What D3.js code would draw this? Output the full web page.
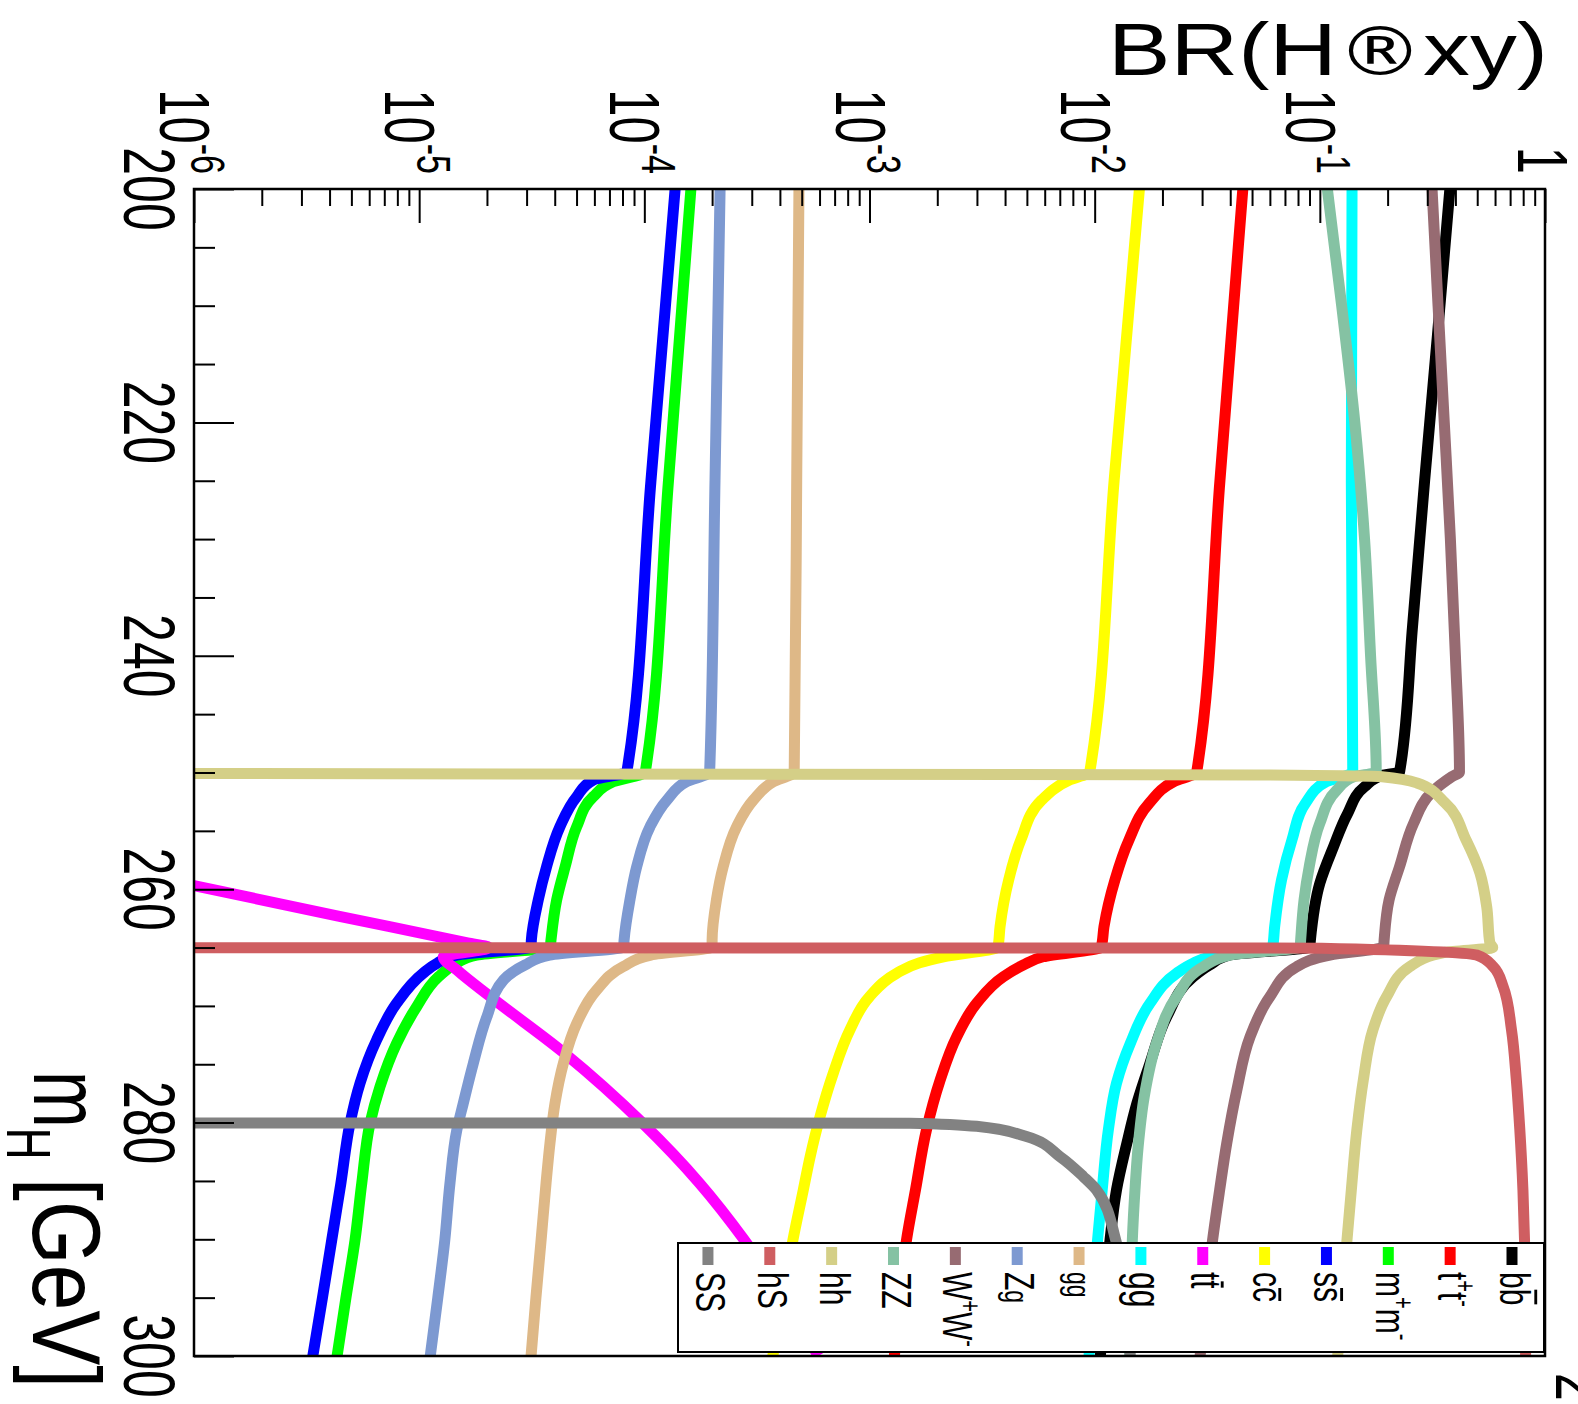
<!DOCTYPE html>
<html><head><meta charset="utf-8">
<script src="https://cdn.jsdelivr.net/npm/d3@7"></script>
<style>
body{margin:0;background:#fff;}
svg text{font-family:"Liberation Sans",Arial,Helvetica,sans-serif;fill:#000;}
</style></head><body>
<svg id="c" width="1578" height="1404"></svg>
<script>
// ---------------- data (mH [GeV], BR) ----------------
const brMajorTicks = [1e-6,1e-5,1e-4,1e-3,1e-2,1e-1,1];
const brLabelBase  = ["10","10","10","10","10","10","1"];
const brLabelExp   = ["-6","-5","-4","-3","-2","-1",""];
const mHMajorTicks = [200,220,240,260,280,300];

const bb = [[200,0.378],[212.5,0.333],[225,0.292],[237.5,0.258],[249.95,0.226],[250.25,0.189],[251.22,0.158],[253.5,0.133],[256.36,0.115],[259.49,0.100],[264.35,0.0908],[264.95,0.0902],[265.64,0.0399],[266.5,0.0324],[267.5,0.0274],[270.92,0.0209],[274.92,0.0176],[278.35,0.0154],[281.77,0.0139],[285.78,0.0125],[290.06,0.0117],[295,0.0111],[300,0.0106]];
const tautau = [[200,0.0455],[225,0.0360],[249.95,0.0284],[250.79,0.0224],[252.61,0.0175],[255.78,0.0142],[259.21,0.0123],[263.21,0.0110],[264.95,0.0107],[265.79,0.00590],[266.5,0.00482],[267.5,0.00393],[269.78,0.00299],[272.64,0.00244],[276.35,0.00206],[280.63,0.00179],[285.78,0.00160],[290.06,0.00146],[295,0.00136],[300,0.00129]];
const mumu = [[200,1.61e-4],[225,1.28e-4],[249.95,1.01e-4],[250.79,7.28e-5],[252.07,5.93e-5],[254.64,5.01e-5],[258.07,4.45e-5],[260.92,4.08e-5],[264.35,3.85e-5],[264.95,3.82e-5],[265.64,1.80e-5],[266.35,1.46e-5],[267.5,1.22e-5],[270.07,9.75e-6],[273.21,7.94e-6],[276.92,6.70e-6],[280.06,6.05e-6],[285.2,5.56e-6],[290.06,5.19e-6],[295,4.73e-6],[300,4.32e-6]];
const ssbar = [[200,1.37e-4],[225,1.07e-4],[249.95,8.36e-5],[250.64,5.93e-5],[252.07,5.01e-5],[254.64,4.22e-5],[258.07,3.68e-5],[260.92,3.38e-5],[264.35,3.15e-5],[264.95,3.14e-5],[265.64,1.47e-5],[266.35,1.20e-5],[267.21,1.04e-5],[269.78,7.94e-6],[272.92,6.47e-6],[276.63,5.46e-6],[280.06,4.93e-6],[285.2,4.49e-6],[290.06,4.09e-6],[295,3.72e-6],[300,3.37e-6]];
const ccbar = [[200,0.0158],[225,0.0122],[249.95,0.00951],[250.64,0.00773],[252.36,0.00582],[255.78,0.00470],[259.21,0.00415],[263.21,0.00380],[264.95,0.00372],[265.79,0.00213],[266.3,0.00167],[267.21,0.00132],[269.21,0.00100],[272.06,8.18e-4],[275.78,6.90e-4],[279.49,6.03e-4],[282.92,5.45e-4],[285.78,5.08e-4],[290.06,4.57e-4],[295,4.13e-4],[300,3.72e-4]];
const ttbar = [[258.0,3.9e-7],[259.69,1.0e-6],[262.3,4.37e-6],[264.6,1.64e-5],[265.0,2.04e-5],[265.81,1.28e-5],[266.92,1.47e-5],[269.21,2.07e-5],[274.06,4.42e-5],[280.06,9.84e-5],[285.2,1.76e-4],[290.06,2.78e-4],[295,4.14e-4],[300,5.92e-4]];
const gluglu = [[200,0.139],[225,0.138],[249.95,0.140],[250.79,0.107],[252.61,0.0865],[255.78,0.0752],[259.21,0.0676],[263.21,0.0630],[264.95,0.0617],[265.79,0.0325],[266.35,0.0274],[267.21,0.0231],[269.78,0.0176],[273.21,0.0144],[276.63,0.0125],[280.63,0.0115],[285.78,0.0108],[290.06,0.0103],[295,0.00984],[300,0.00944]];
const gamgam = [[200,4.86e-4],[225,4.75e-4],[249.95,4.63e-4],[250.79,3.74e-4],[252.36,3.05e-4],[254.64,2.57e-4],[258.07,2.24e-4],[260.92,2.09e-4],[264.35,2.00e-4],[264.95,2.00e-4],[265.64,1.07e-4],[266.64,8.05e-5],[268.64,6.14e-5],[271.49,5.01e-5],[274.92,4.37e-5],[278.35,4.01e-5],[281.77,3.81e-5],[285.2,3.66e-5],[290.06,3.48e-5],[295,3.30e-5],[300,3.14e-5]];
const zgam = [[200,2.17e-4],[225,2.06e-4],[249.95,1.95e-4],[250.79,1.54e-4],[252.36,1.26e-4],[254.64,1.06e-4],[258.07,9.25e-5],[260.92,8.63e-5],[264.35,8.13e-5],[264.95,8.09e-5],[265.64,3.80e-5],[266.5,2.95e-5],[267.78,2.37e-5],[270.92,2.00e-5],[274.92,1.74e-5],[278.35,1.57e-5],[280.63,1.47e-5],[285.2,1.37e-5],[290.06,1.30e-5],[295,1.21e-5],[300,1.12e-5]];
const ww = [[200,0.315],[210,0.335],[220,0.357],[230,0.380],[240,0.400],[249.95,0.417],[250.36,0.386],[251.78,0.311],[254.35,0.261],[258.07,0.226],[260.92,0.203],[264.35,0.193],[264.95,0.192],[265.64,0.111],[266.64,0.0789],[269.21,0.0600],[272.64,0.0490],[277.21,0.0428],[281.77,0.0386],[285.78,0.0359],[290.06,0.0334],[295,0.0312],[300,0.0294]];
const zz = [[200,0.108],[210,0.125],[220,0.143],[230,0.158],[240,0.168],[249.95,0.178],[250.36,0.142],[251.5,0.119],[254.35,0.100],[258.07,0.0897],[260.92,0.0851],[264.35,0.0822],[264.95,0.0818],[265.64,0.0398],[266.64,0.0304],[269.21,0.0231],[273.21,0.0188],[277.78,0.0166],[282.06,0.0156],[285.78,0.0151],[290.06,0.0147],[295,0.0145],[300,0.0143]];
const hh = [[250.0,1e-9],[250.21,0.0508],[250.36,0.189],[250.9,0.270],[252.61,0.360],[255.78,0.446],[258.61,0.514],[261.5,0.551],[264.61,0.569],[265.0,0.586],[265.4,0.363],[266.64,0.251],[269.21,0.198],[272.06,0.172],[276.35,0.156],[280.63,0.146],[285.78,0.138],[290.06,0.132],[295,0.126],[300,0.120]];
const hS = [[265.0,1e-9],[265.05,0.102],[265.64,0.497],[266.64,0.589],[268.35,0.652],[272.06,0.710],[276.35,0.746],[280.63,0.773],[285.78,0.798],[290.06,0.811],[295,0.817],[300,0.820]];
const SS = [[280.0,1e-9],[280.05,1.51e-3],[280.32,2.99e-3],[281.2,4.98e-3],[282.92,7.02e-3],[284.63,8.91e-3],[285.78,1.02e-2],[290.06,1.24e-2],[295,1.36e-2],[300,1.44e-2]];

const seriesData   = [bb, tautau, mumu, ssbar, ccbar, ttbar, gluglu, gamgam, zgam, ww, zz, hh, hS, SS];
const seriesColors = ["#000000","#ff0000","#00ff00","#0000ff","#ffff00","#ff00ff","#00ffff","#deb887","#7d99d1","#976b72","#85c2a3","#d4cf87","#cf5e61","#828282"];
// legend labels: segments (sup = superscript, small = smaller font, big = larger font, bar = overlined)
const legendLabels = [
  [{t:"b"},{t:"b",bar:1}],
  [{t:"t"},{t:"+",sup:1},{t:"t"},{t:"-",sup:1}],
  [{t:"m"},{t:"+",sup:1},{t:"m"},{t:"-",sup:1}],
  [{t:"s"},{t:"s",bar:1}],
  [{t:"c"},{t:"c",bar:1}],
  [{t:"t"},{t:"t",bar:1}],
  [{t:"gg",big:1}],
  [{t:"gg",small:1}],
  [{t:"Z"},{t:"g",small:1}],
  [{t:"W"},{t:"+",sup:1},{t:"W"},{t:"-",sup:1}],
  [{t:"ZZ"}],
  [{t:"hh"}],
  [{t:"hS"}],
  [{t:"SS"}]
];

// ---------------- layout ----------------
const X0 = 194, X1 = 1545, Y0 = 189, Y1 = 1356;
const SV = 1.43; // vertical glyph stretch of the original picture
const svg = d3.select("#c");
const x = d3.scaleLog().domain([1e-6, 1]).range([X0, X1]);
const y = d3.scaleLinear().domain([200, 300]).range([Y0, Y1]);

svg.append("defs").append("clipPath").attr("id","clip")
  .append("rect").attr("x",X0).attr("y",Y0).attr("width",X1-X0).attr("height",Y1-Y0);

// curves
const line = d3.line().x(d => x(d[1])).y(d => y(d[0])).curve(d3.curveMonotoneY);
const gCurves = svg.append("g").attr("clip-path","url(#clip)");
seriesData.forEach((s,i) => {
  gCurves.append("path").attr("d", line(s)).attr("fill","none")
    .attr("stroke", seriesColors[i]).attr("stroke-width", 11).attr("stroke-linejoin","round");
});

// axes (ticks only)
const brMinor = x.ticks().filter(v => !brMajorTicks.some(m => Math.abs(m - v) / m < 1e-6));
svg.append("g").attr("transform",`translate(0,${Y0})`)
  .call(d3.axisBottom(x).tickValues(brMinor).tickSize(17).tickSizeOuter(0).tickFormat(""));
svg.append("g").attr("transform",`translate(0,${Y0})`)
  .call(d3.axisBottom(x).tickValues(brMajorTicks).tickSize(34).tickSizeOuter(0).tickFormat(""));
const mHMinor = y.ticks(20).filter(v => !mHMajorTicks.includes(v));
svg.append("g").attr("transform",`translate(${X0},0)`)
  .call(d3.axisRight(y).tickValues(mHMinor).tickSize(21).tickSizeOuter(0).tickFormat(""));
svg.append("g").attr("transform",`translate(${X0},0)`)
  .call(d3.axisRight(y).tickValues(mHMajorTicks).tickSize(40).tickSizeOuter(0).tickFormat(""));
svg.selectAll(".domain").remove();
svg.selectAll(".tick line").attr("stroke","#000").attr("stroke-width",2);

// frame
svg.append("rect").attr("x",X0).attr("y",Y0).attr("width",X1-X0).attr("height",Y1-Y0)
  .attr("fill","none").attr("stroke","#000").attr("stroke-width",2.5);

// rotated text helper
function rotText(px, py, anchor, size, sv) {
  return svg.append("text")
    .attr("transform", `translate(${px},${py}) rotate(90) scale(1,${sv || SV})`)
    .attr("text-anchor", anchor).attr("font-size", size);
}

// mH tick labels
mHMajorTicks.forEach(v => {
  rotText(124, y(v), "middle", 50).text(v);
});
// BR tick labels
brMajorTicks.forEach((v,i) => {
  const t = rotText(x(v) - (brLabelExp[i] ? 34 : 27), 174, "end", 49);
  t.append("tspan").text(brLabelBase[i]);
  if (brLabelExp[i]) t.append("tspan").attr("dy", -22).attr("font-size", 34).text(brLabelExp[i]);
});

// axis titles
const yt = svg.append("text").attr("x",1548).attr("y",75)
  .attr("text-anchor","end").attr("font-size",74)
  .attr("textLength",440).attr("lengthAdjust","spacingAndGlyphs");
yt.append("tspan").text("BR(H");
yt.append("tspan").attr("font-family","DejaVu Sans").attr("font-size",68).text("\u00AE");
yt.append("tspan").text("xy)");
const xt = rotText(34, 1071, "start", 68);
xt.append("tspan").text("m");
xt.append("tspan").attr("dy", 19).attr("font-size", 44).text("H");
rotText(33, 1178, "start", 68).attr("textLength", 210).attr("lengthAdjust","spacingAndGlyphs").text("[GeV]");

// cut-off label at the corner
rotText(1556, 1373, "start", 50).text("2");

// legend
const LX0 = 678, LX1 = 1544, LY0 = 1243, LY1 = 1352;
svg.append("rect").attr("x",LX0).attr("y",LY0).attr("width",LX1-LX0).attr("height",LY1-LY0)
  .attr("fill","#fff").attr("stroke","#000").attr("stroke-width",2);
legendLabels.forEach((segs,i) => {
  const mx = 1512 - i * 61.85;
  svg.append("line").attr("x1",mx).attr("x2",mx).attr("y1",1247).attr("y2",1265)
    .attr("stroke", seriesColors[i]).attr("stroke-width", 11);
  const g = svg.append("g").attr("transform", `translate(${mx-12},1272) rotate(90) scale(1,${SV})`);
  const t = g.append("text").attr("font-size", 30);
  let shift = 0, idx = 0; const bars = [];
  segs.forEach(s => {
    const target = s.sup ? -12 : 0;
    const ts = t.append("tspan").text(s.t);
    if (target - shift !== 0) ts.attr("dy", target - shift);
    shift = target;
    if (s.sup) ts.attr("font-size", 20);
    if (s.small) ts.attr("font-size", 23);
    if (s.big) ts.attr("font-size", 32);
    if (s.bar) bars.push({idx, ch:s.t});
    idx += s.t.length;
  });
  bars.forEach(b => {
    const n = t.node();
    const p = n.getStartPositionOfChar(b.idx);
    const w = n.getSubStringLength(b.idx, 1);
    const h = b.ch === "b" ? 25 : (b.ch === "t" ? 22 : 19);
    g.append("line").attr("x1", p.x + 1).attr("x2", p.x + w - 1).attr("y1", -h).attr("y2", -h)
      .attr("stroke","#000").attr("stroke-width",2);
  });
});
</script>
</body></html>
